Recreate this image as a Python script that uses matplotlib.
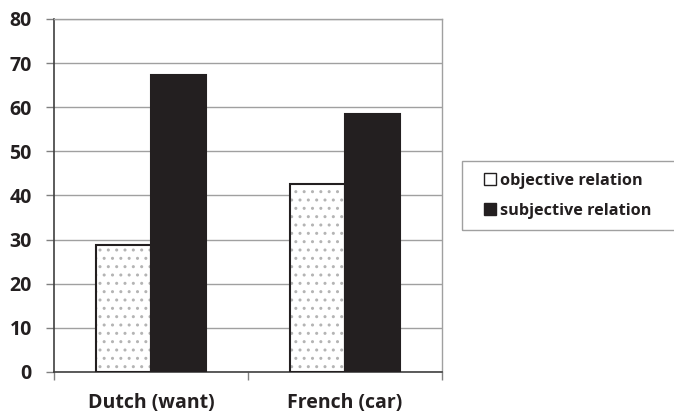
import matplotlib.pyplot as plt
import numpy as np
from matplotlib.patches import Patch, Rectangle

# data
categories = ["Dutch (want)", "French (car)"]
series_names = ["objective relation", "subjective relation"]
objective = [28.8, 42.7]
subjective = [67.3, 58.5]
y_ticks = [0, 10, 20, 30, 40, 50, 60, 70, 80]

plt.rcParams['font.family'] = ['Open Sans', 'DejaVu Sans']
plt.rcParams['font.weight'] = 'bold'
plt.rcParams['hatch.linewidth'] = 1.0

DOT = '#b4b4b4'
INK = '#231f20'

W, H = 674, 413
fig = plt.figure(figsize=(W / 100, H / 100), dpi=100)
ax = fig.add_axes([0.0801, 0.0993, 0.5757, 0.8547])

x = np.arange(len(categories))
w = 0.284
# dotted fill first (hatch takes the edge colour), then the dark outline
ax.bar(x - w / 2, objective, w, color='white', edgecolor=DOT,
       linewidth=0, hatch='..', zorder=3)
ax.bar(x - w / 2, objective, w, fill=False, edgecolor=INK,
       linewidth=1.5, zorder=4)
ax.bar(x + w / 2, subjective, w, color=INK, edgecolor=INK,
       linewidth=1.5, zorder=3)

ax.set_xlim(-0.5, 1.5)
ax.set_ylim(0, 80)
ax.set_yticks(y_ticks)
ax.set_yticklabels([str(v) for v in y_ticks], fontsize=14, fontweight='bold',
                   color=INK)
ax.yaxis.grid(True, color='#a0a0a0', linewidth=1, zorder=0)
ax.set_axisbelow(True)

# category labels centred, ticks on the boundaries
ax.set_xticks([-0.5, 0.5, 1.5])
ax.set_xticklabels([])
ax.set_xticks(x, minor=True)
ax.set_xticklabels(categories, minor=True, fontsize=14, fontweight='bold',
                   color=INK)
ax.tick_params(axis='x', which='minor', length=0, pad=15)
ax.tick_params(axis='x', which='major', length=6, color='#808080', width=1)
ax.tick_params(axis='y', length=6, color='#808080', width=1, pad=10)

for side in ['top', 'right']:
    ax.spines[side].set_color('#a0a0a0')
    ax.spines[side].set_linewidth(1)
ax.spines['left'].set_color('#404040')
ax.spines['bottom'].set_color('#404040')
ax.spines['left'].set_linewidth(1.2)
ax.spines['bottom'].set_linewidth(1.2)

# legend frame runs off the right edge, as in the original
fig.patches.append(Rectangle((462 / W, 1 - 230 / H), 230 / W, 69 / H,
                             transform=fig.transFigure, facecolor='none',
                             edgecolor='#a0a0a0', linewidth=1))
handles = [Patch(facecolor='white', edgecolor=INK, linewidth=1),
           Patch(facecolor=INK, edgecolor=INK)]
leg = fig.legend(handles, series_names, loc='center left',
                 bbox_to_anchor=(484 / W, 1 - 196 / H), frameon=False,
                 handlelength=0.75, handleheight=0.75, handletextpad=0.25,
                 borderpad=0, labelspacing=0.85, borderaxespad=0,
                 prop={'size': 11.7, 'weight': 'bold'})
for t in leg.get_texts():
    t.set_color(INK)

fig.savefig('out.png', dpi=100)
